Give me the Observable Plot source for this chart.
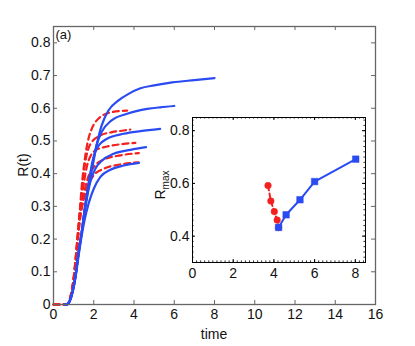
<!DOCTYPE html>
<html><head><meta charset="utf-8">
<script src="https://cdn.jsdelivr.net/npm/d3@7"></script>
<script src="https://cdn.jsdelivr.net/npm/@observablehq/plot@0.6"></script>
<style>
html,body{margin:0;padding:0;background:#fff;}
#wrap{position:relative;width:415px;height:346px;font-family:"Liberation Sans",Arial,sans-serif;}
#main{position:absolute;left:0;top:0;}
#inset{position:absolute;left:142px;top:100px;}
</style></head><body>
<div id="wrap"><div id="main"></div><div id="inset"></div></div>
<script>
// ---- tick labels ----
const xTicks = [0, 2, 4, 6, 8, 10, 12, 14, 16];
const yTicks = [0, 0.1, 0.2, 0.3, 0.4, 0.5, 0.6, 0.7, 0.8];
const insetXTicks = [0, 2, 4, 6, 8];
const insetYTicks = [0.4, 0.6, 0.8];

// ---- main curves R(t): [time, R] ----
const red1 = [[0,0],[0.65,0],[0.8,0.015],[0.9,0.04],[1.0,0.08],[1.1,0.14],[1.2,0.21],[1.3,0.28],[1.4,0.36],[1.56,0.446],[1.75,0.51],[1.9,0.537],[2.23,0.568],[2.89,0.588],[3.66,0.593]];
const red2 = [[0,0],[0.65,0],[0.8,0.015],[0.9,0.04],[1.0,0.08],[1.1,0.14],[1.2,0.21],[1.3,0.28],[1.42,0.355],[1.58,0.435],[1.83,0.49],[2.33,0.517],[2.91,0.527],[3.49,0.532],[3.82,0.535]];
const red3 = [[0,0],[0.65,0],[0.8,0.014],[0.9,0.038],[1.0,0.077],[1.1,0.135],[1.2,0.2],[1.3,0.27],[1.45,0.345],[1.65,0.42],[1.85,0.455],[2.08,0.471],[2.66,0.483],[3.49,0.491],[4.07,0.494]];
const red4 = [[0,0],[0.65,0],[0.8,0.013],[0.9,0.036],[1.0,0.074],[1.1,0.13],[1.2,0.195],[1.3,0.26],[1.5,0.335],[1.7,0.385],[2.0,0.42],[2.49,0.443],[3.33,0.456],[4.24,0.463]];
const red5 = [[0,0],[0.65,0],[0.8,0.012],[0.9,0.034],[1.0,0.07],[1.1,0.125],[1.2,0.19],[1.3,0.25],[1.5,0.32],[1.75,0.37],[2.0,0.395],[2.5,0.415],[3.3,0.428],[4.22,0.435]];

const blue1 = [[0.55,0],[0.65,0],[0.8,0.01],[0.95,0.04],[1.1,0.09],[1.25,0.16],[1.4,0.22],[1.55,0.29],[1.73,0.364],[2.06,0.466],[2.39,0.547],[2.73,0.593],[3.23,0.624],[3.73,0.644],[4.32,0.661],[5.0,0.670],[5.9,0.679],[7.0,0.686],[8.0,0.692]];
const blue2 = [[0.55,0],[0.65,0],[0.8,0.01],[0.95,0.04],[1.1,0.09],[1.25,0.16],[1.4,0.22],[1.55,0.29],[1.75,0.36],[1.98,0.435],[2.14,0.486],[2.39,0.527],[2.89,0.563],[3.66,0.583],[4.66,0.598],[5.3,0.603],[6.0,0.607]];
const blue3 = [[0.55,0],[0.65,0],[0.8,0.01],[0.95,0.04],[1.1,0.09],[1.25,0.16],[1.4,0.22],[1.55,0.29],[1.75,0.37],[1.91,0.43],[2.16,0.478],[2.66,0.507],[3.49,0.522],[4.32,0.530],[5.3,0.537]];
const blue4 = [[0.55,0],[0.65,0],[0.8,0.01],[0.95,0.04],[1.1,0.09],[1.25,0.16],[1.4,0.22],[1.55,0.285],[1.83,0.375],[2.08,0.415],[2.41,0.44],[2.99,0.461],[3.83,0.473],[4.6,0.481]];
const blue5 = [[0.55,0],[0.65,0],[0.8,0.01],[0.95,0.038],[1.1,0.085],[1.25,0.15],[1.4,0.21],[1.55,0.26],[1.75,0.31],[2.0,0.354],[2.33,0.39],[2.83,0.412],[3.49,0.425],[4.25,0.433]];

// ---- inset: R_max vs final time ----
const redTmax = [3.71, 3.85, 4.02, 4.16, 4.23];
const redRmax = [0.592, 0.533, 0.493, 0.461, 0.433];
const blueTmax = [4.23, 4.60, 5.28, 6.00, 8.02];
const blueRmax = [0.433, 0.481, 0.538, 0.607, 0.692];

const RED = "#f2201e", BLUE = "#2a4bf2";
const FONT = '"Liberation Sans", Arial, sans-serif';

// ---------- main plot ----------
const W = 415, H = 346, mL = 53, mR = 40, mT = 26, mB = 42;
const xDom = [0, 16], yDom = [0, 0.85];
const pxX = (xDom[1] - xDom[0]) / (W - mL - mR); // data units per px
const pxY = (yDom[1] - yDom[0]) / (H - mT - mB);
const tl = 4;
const inner = (arr, lo, hi) => arr.filter(v => v > lo && v < hi);

const redCurves = [red1, red2, red3, red4, red5];
const blueCurves = [blue1, blue2, blue3, blue4, blue5];

const mainMarks = [];
for (const c of redCurves) mainMarks.push(Plot.line(c, {x: d => d[0], y: d => d[1], stroke: RED, strokeWidth: 2.2, strokeDasharray: "6,4", curve: "monotone-x"}));
for (const c of blueCurves) mainMarks.push(Plot.line(c, {x: d => d[0], y: d => d[1], stroke: BLUE, strokeWidth: 2.2, curve: "monotone-x"}));

const mainPlot = Plot.plot({
  width: W, height: H,
  marginLeft: mL, marginRight: mR, marginTop: mT, marginBottom: mB,
  style: {fontSize: "14px", fontFamily: FONT, background: "transparent", color: "#111", overflow: "visible"},
  x: {domain: xDom, ticks: xTicks, tickSize: 0, tickPadding: 5, tickFormat: d => String(d), label: null},
  y: {domain: yDom, ticks: yTicks, tickSize: 0, tickPadding: 3, tickFormat: d => (d === 0 ? "0" : d3.format(".1f")(d)), label: null},
  marks: [
    ...mainMarks,
    Plot.ruleX(inner(xTicks, xDom[0], xDom[1]), {x: d => d, y1: yDom[0], y2: yDom[0] + tl * pxY, stroke: "#666"}),
    Plot.ruleX(inner(xTicks, xDom[0], xDom[1]), {x: d => d, y1: yDom[1] - tl * pxY, y2: yDom[1], stroke: "#666"}),
    Plot.ruleY(inner(yTicks, yDom[0], yDom[1]), {y: d => d, x1: xDom[0], x2: xDom[0] + tl * pxX, stroke: "#666"}),
    Plot.ruleY(inner(yTicks, yDom[0], yDom[1]), {y: d => d, x1: xDom[1] - tl * pxX, x2: xDom[1], stroke: "#666"}),
    Plot.frame({stroke: "#666", strokeWidth: 1.3}),
    Plot.text(["(a)"], {frameAnchor: "top-left", dx: 2, dy: 3, text: d => d, textAnchor: "start", lineAnchor: "top", fontSize: 13})
  ]
});
document.getElementById("main").appendChild(mainPlot);
const ms = d3.select(mainPlot);
ms.append("text").attr("x", 214).attr("y", 339).attr("text-anchor", "middle")
  .attr("font-size", 14).attr("font-family", FONT).attr("fill", "#111").text("time");
ms.append("text").attr("transform", "translate(28,165) rotate(-90)").attr("text-anchor", "middle")
  .attr("font-size", 14).attr("font-family", FONT).attr("fill", "#111").text("R(t)");

// ---------- inset ----------
const iW = 240, iH = 190, iL = 50, iR = 17, iT = 17, iB = 28;
const ixDom = [0, 8.5], iyDom = [0.3, 0.85];
const ipxX = (ixDom[1] - ixDom[0]) / (iW - iL - iR);
const ipxY = (iyDom[1] - iyDom[0]) / (iH - iT - iB);
const minorX = d3.range(0.2, 8.5, 0.2);
const minorY = d3.range(0.32, 0.85, 0.02);
const redPts = redTmax.map((t, i) => ({t, r: redRmax[i]}));
const bluePts = blueTmax.map((t, i) => ({t, r: blueRmax[i]}));
const imaj = 3, imin = 1.6;

const insetPlot = Plot.plot({
  width: iW, height: iH,
  marginLeft: iL, marginRight: iR, marginTop: iT, marginBottom: iB,
  style: {fontSize: "14px", fontFamily: FONT, background: "transparent", color: "#111", overflow: "visible"},
  x: {domain: ixDom, ticks: insetXTicks, tickSize: 0, tickPadding: 6, tickFormat: d => String(d), label: null},
  y: {domain: iyDom, ticks: insetYTicks, tickSize: 0, tickPadding: 3, tickFormat: d3.format(".1f"), label: null},
  marks: [
    Plot.frame({fill: "white", stroke: null}),
    Plot.ruleX(minorX, {x: d => d, y1: iyDom[0], y2: iyDom[0] + imin * ipxY, stroke: "#000", strokeWidth: 0.8}),
    Plot.ruleX(minorX, {x: d => d, y1: iyDom[1] - imin * ipxY, y2: iyDom[1], stroke: "#000", strokeWidth: 0.8}),
    Plot.ruleY(minorY, {y: d => d, x1: ixDom[0], x2: ixDom[0] + imin * ipxX, stroke: "#000", strokeWidth: 0.8}),
    Plot.ruleY(minorY, {y: d => d, x1: ixDom[1] - imin * ipxX, x2: ixDom[1], stroke: "#000", strokeWidth: 0.8}),
    Plot.ruleX(insetXTicks, {x: d => d, y1: iyDom[0], y2: iyDom[0] + imaj * ipxY, stroke: "#000"}),
    Plot.ruleX(insetXTicks, {x: d => d, y1: iyDom[1] - imaj * ipxY, y2: iyDom[1], stroke: "#000"}),
    Plot.ruleY(insetYTicks, {y: d => d, x1: ixDom[0], x2: ixDom[0] + imaj * ipxX, stroke: "#000"}),
    Plot.ruleY(insetYTicks, {y: d => d, x1: ixDom[1] - imaj * ipxX, x2: ixDom[1], stroke: "#000"}),
    Plot.line(redPts, {x: "t", y: "r", stroke: RED, strokeWidth: 2, strokeDasharray: "5,3"}),
    Plot.dot(redPts, {x: "t", y: "r", r: 3.3, fill: RED, stroke: RED, strokeWidth: 0.5}),
    Plot.line(bluePts, {x: "t", y: "r", stroke: BLUE, strokeWidth: 2}),
    Plot.dot(bluePts, {x: "t", y: "r", symbol: "square", r: 3.7, fill: BLUE, stroke: BLUE, strokeWidth: 0.5}),
    Plot.frame({stroke: "#000", strokeWidth: 1})
  ]
});
document.getElementById("inset").appendChild(insetPlot);
const is = d3.select(insetPlot);
const lab = is.append("text").attr("transform", "translate(23,85) rotate(-90)").attr("text-anchor", "middle")
  .attr("font-size", 14).attr("font-family", FONT).attr("fill", "#111");
lab.append("tspan").text("R");
lab.append("tspan").attr("dy", "0.35em").attr("font-size", 10).text("max");
</script>
</body></html>
